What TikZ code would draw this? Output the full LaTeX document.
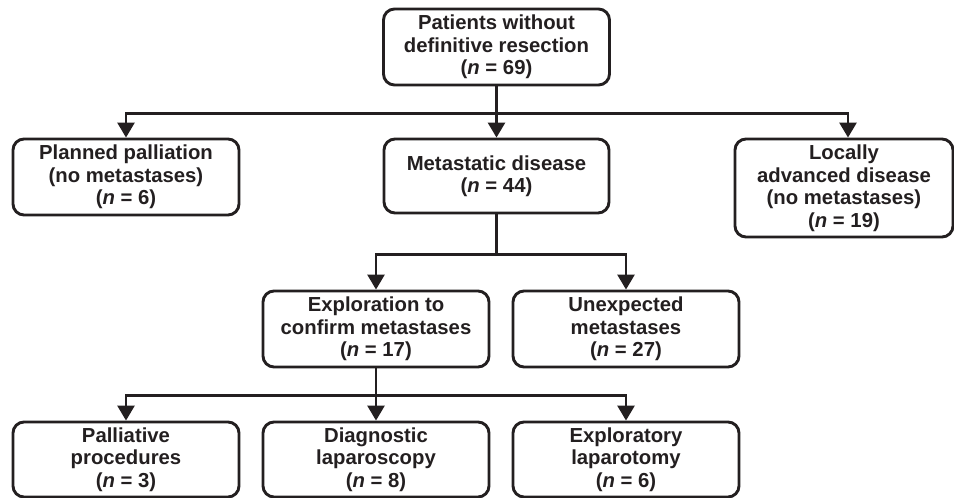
\documentclass[tikz,border=0pt]{standalone}
\usepackage{fontspec}
\setmainfont{Liberation Sans}
\usetikzlibrary{arrows.meta}
\definecolor{inkgray}{HTML}{231F20}

\begin{document}
\begin{tikzpicture}[x=1pt,y=-1pt,
    box/.style={draw=inkgray,line width=2.9pt,rounded corners=11pt,align=center,
      font=\fontsize{20.3}{22.5}\selectfont\bfseries,text=inkgray,inner sep=0pt,
      minimum width=226pt,minimum height=76pt},
    link/.style={draw=inkgray,line width=2.9pt},
    arr/.style={link,-{Triangle[width=17pt,length=15pt]}}]
    \useasboundingbox (0,0) rectangle (954,498);

    % first level
    \node[box] (top) at (496.5,47) {Patients without\\definitive resection\\(\textit{n} = 69)};
    \node[box] (planned) at (126,177) {Planned palliation\\(no metastases)\\(\textit{n} = 6)};
    \node[box,minimum width=225pt,minimum height=74pt] (metast) at (496.5,176) {Metastatic disease\\(\textit{n} = 44)};
    \node[box,minimum width=218pt,minimum height=98pt] (locally) at (844,188) {Locally\\advanced disease\\(no metastases)\\(\textit{n} = 19)};

    % second level
    \node[box] (explor) at (376,329) {Exploration to\\confirm metastases\\(\textit{n} = 17)};
    \node[box] (unexp) at (626,329) {Unexpected\\metastases\\(\textit{n} = 27)};

    % third level
    \node[box,minimum height=75pt] (palliat) at (126,459.5) {Palliative\\procedures\\(\textit{n} = 3)};
    \node[box,minimum height=75pt] (diagn) at (376,459.5) {Diagnostic\\laparoscopy\\(\textit{n} = 8)};
    \node[box,minimum height=75pt] (laparot) at (626,459.5) {Exploratory\\laparotomy\\(\textit{n} = 6)};

    % connectors
    \draw[link] (top.south) -- ++(0,27) coordinate (j1);
    \draw[arr] (j1) -| (planned.north);
    \draw[arr] (j1) -- (metast.north);
    \draw[arr] (j1) -| ([xshift=4pt]locally.north);

    \draw[link] (metast.south) -- ++(0,40) coordinate (j2);
    \draw[arr] (j2) -| (explor.north);
    \draw[arr] (j2) -| (unexp.north);

    \draw[link] (explor.south) -- ++(0,27) coordinate (j3);
    \draw[arr] (j3) -| (palliat.north);
    \draw[arr] (j3) -- (diagn.north);
    \draw[arr] (j3) -| (laparot.north);
\end{tikzpicture}
\end{document}
